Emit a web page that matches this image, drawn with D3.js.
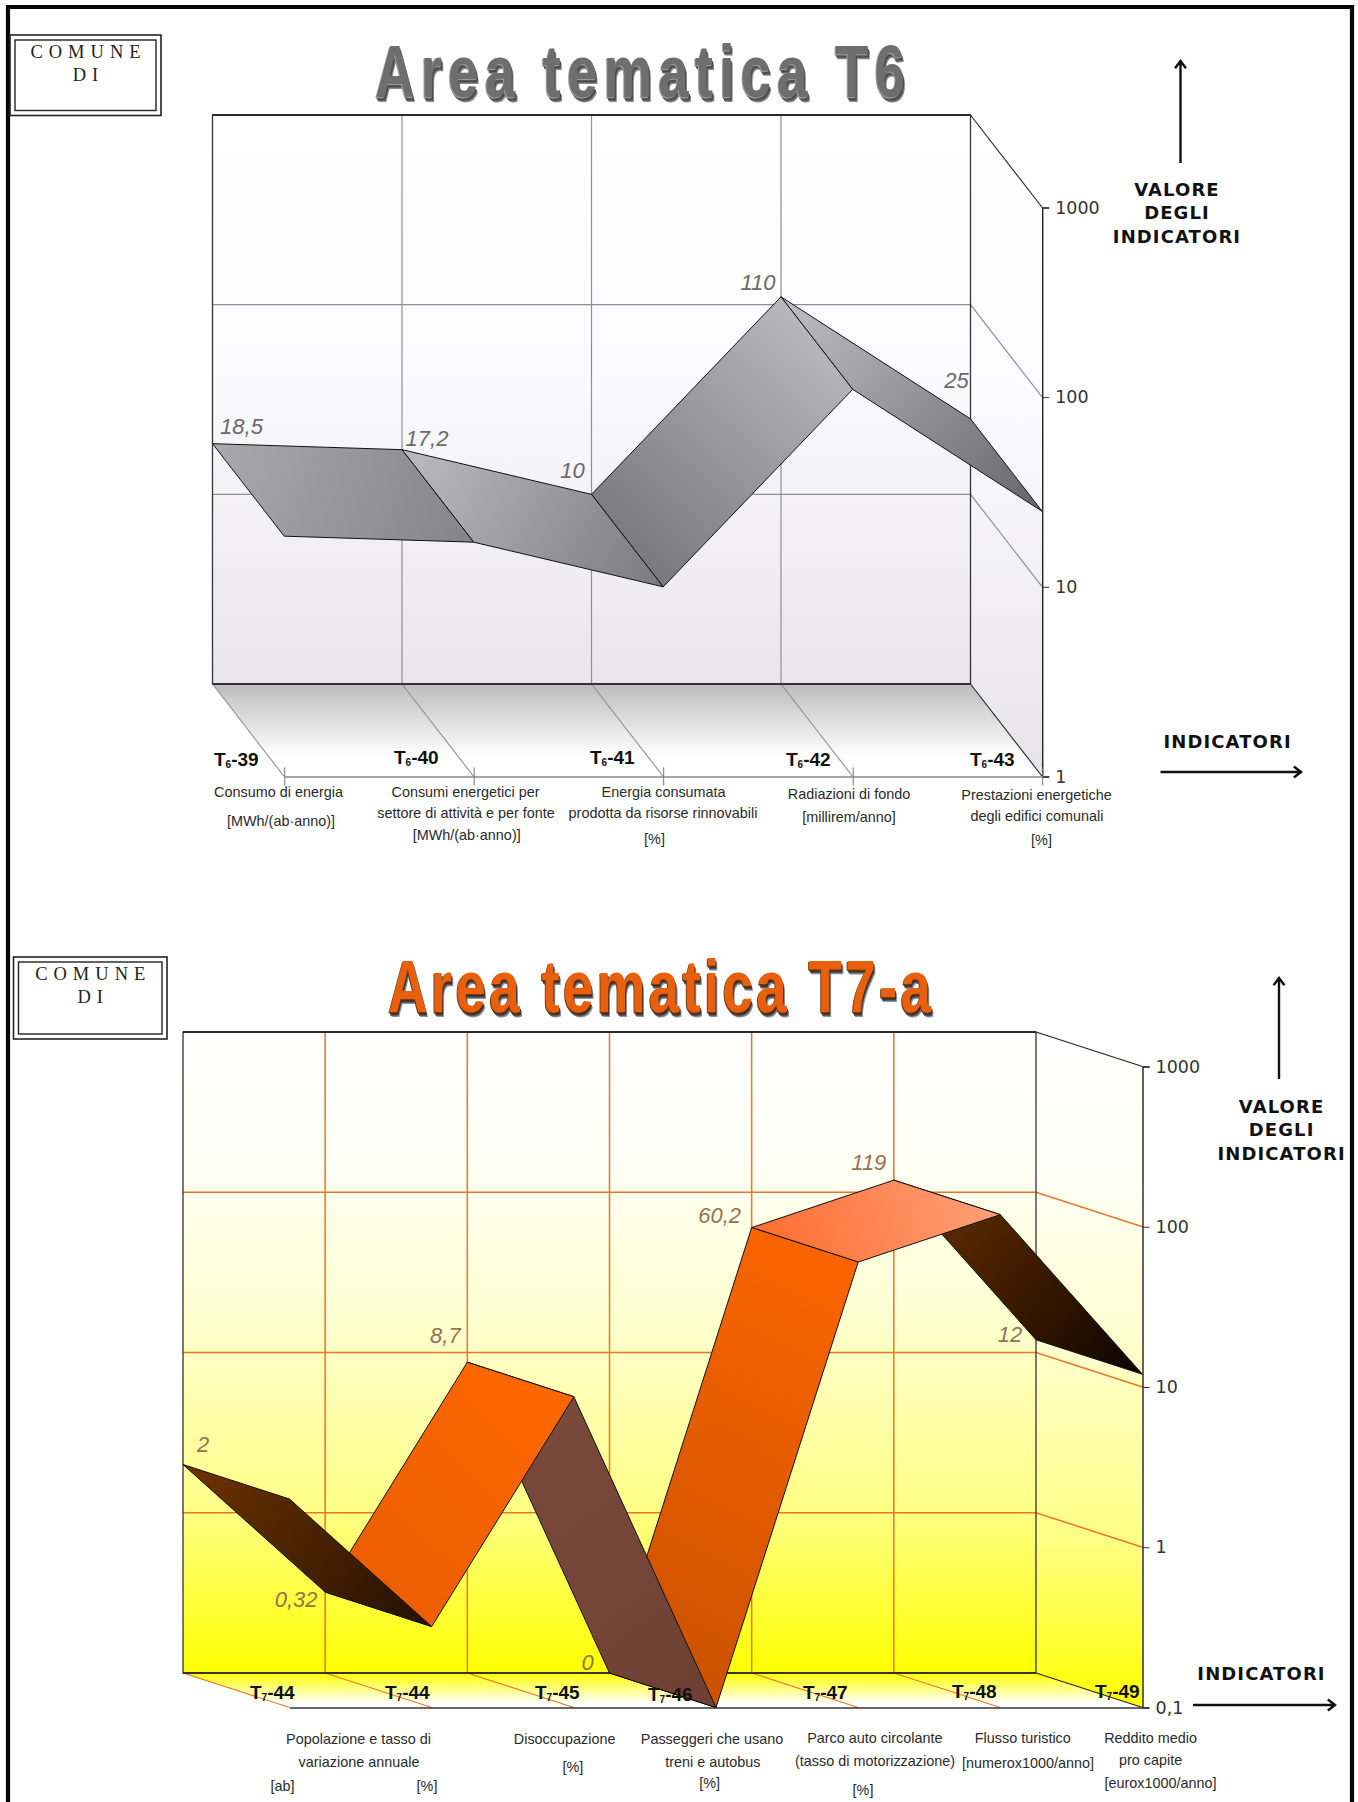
<!DOCTYPE html>
<html>
<head>
<meta charset="utf-8">
<script src="https://cdn.jsdelivr.net/npm/d3@7"></script>
<style>
html,body{margin:0;padding:0;background:#fff;}
svg{display:block;}
text{font-family:"Liberation Sans",Arial,sans-serif;}
.desc{font-size:14.4px;fill:#2a2a2a;text-anchor:middle;dominant-baseline:central;}
.code{font-weight:700;font-size:19px;fill:#111;dominant-baseline:central;}
.val{font-style:italic;font-size:22px;text-anchor:middle;dominant-baseline:central;}
.side{font-family:"DejaVu Sans",sans-serif;font-weight:700;font-size:18px;letter-spacing:1.1px;fill:#111;text-anchor:middle;dominant-baseline:central;}
.com{font-family:"Liberation Serif",serif;font-size:18.5px;letter-spacing:6px;fill:#222;text-anchor:middle;dominant-baseline:central;}
.tick text{font-family:"DejaVu Sans",sans-serif;font-size:17.5px;fill:#333;}
</style>
</head>
<body>
<svg id="page" width="1358" height="1802"></svg>
<script>
// Area T6 indicators
const t6Codes = ["39", "40", "41", "42", "43"];
const t6Values = [18.5, 17.2, 10, 110, 25];
const t6Labels = ["18,5", "17,2", "10", "110", "25"];
const t6Ticks = [1, 10, 100, 1000];
const t6TickLabels = ["1", "10", "100", "1000"];

// Area T7-a indicators (the zero reading rests on the axis floor)
const t7Codes = ["44", "44", "45", "46", "47", "48", "49"];
const t7Values = [2, 0.32, 8.7, 0, 60.2, 119, 12];
const t7Labels = ["2", "0,32", "8,7", "0", "60,2", "119", "12"];
const t7Ticks = [0.1, 1, 10, 100, 1000];
const t7TickLabels = ["0,1", "1", "10", "100", "1000"];

// Value label offsets from their ribbon vertices
const t6ValueOffsets = [[29, -17], [25, -11], [-19, -24], [-23, -14], [-14, -38]];
const t7ValueOffsets = [[20, -20], [-29, 7], [-22, -27], [-22, -11], [-32, -12], [-25, -18], [-26, -5]];

// Code label placement
const t6CodePos = [[214, 759], [394, 757], [590, 757], [786, 759], [970, 759]];
const t7CodePos = [[250, 1692], [385, 1692], [535, 1692], [648, 1694], [803, 1692], [952, 1691], [1095, 1691]];

// Indicator descriptions: [text, centre x, centre y]
const t6Desc = [
  ["Consumo di energia", 278.5, 792], ["[MWh/(ab·anno)]", 281, 821],
  ["Consumi energetici per", 465.5, 792], ["settore di attività e per fonte", 466, 813], ["[MWh/(ab·anno)]", 466.7, 835],
  ["Energia consumata", 663.6, 792], ["prodotta da risorse rinnovabili", 663, 813], ["[%]", 654.5, 839],
  ["Radiazioni di fondo", 849, 794], ["[millirem/anno]", 849, 817],
  ["Prestazioni energetiche", 1036.5, 795], ["degli edifici comunali", 1037, 816], ["[%]", 1041.5, 840]
];
const t7Desc = [
  ["Popolazione e tasso di", 358.5, 1739], ["variazione annuale", 359, 1762], ["[ab]", 282.6, 1786], ["[%]", 427, 1786],
  ["Disoccupazione", 564.6, 1739], ["[%]", 572.8, 1767],
  ["Passeggeri che usano", 712, 1739], ["treni e autobus", 712.8, 1762], ["[%]", 709.6, 1783],
  ["Parco auto circolante", 874.8, 1738], ["(tasso di motorizzazione)", 875, 1761], ["[%]", 863, 1790],
  ["Flusso turistico", 1022.8, 1738], ["[numerox1000/anno]", 1028, 1763],
  ["Reddito medio", 1150.6, 1738], ["pro capite", 1150.6, 1760], ["[eurox1000/anno]", 1160.5, 1783]
];

// Ribbon shading per segment: gradient direction and two colours
const t6Shade = [
  {from: [0, 0], to: [1, 1], c: ["#a9a9ab", "#858587"]},
  {from: [0, 0], to: [1, 1], c: ["#bcbcbf", "#7b7b7d"]},
  {from: [1, 0], to: [0, 1], c: ["#c2c2c5", "#6f6f72"]},
  {from: [0, 0], to: [1, 1], c: ["#c0c0c3", "#66666a"]}
];
const t7Shade = [
  {from: [0, 0], to: [1, 1], c: ["#6e3300", "#241000"]},
  {from: [1, 0], to: [0, 1], c: ["#ff6800", "#e85c00"]},
  {from: [0, 0], to: [1, 1], c: ["#7c4c3e", "#6e4034"]},
  {from: [1, 0], to: [0, 1], c: ["#ff6600", "#c65000"]},
  {from: [0, 1], to: [1, 0], c: ["#ff6a2c", "#ffa27c"]},
  {from: [0, 0], to: [1, 1], c: ["#6f3300", "#0d0400"]}
];

const svg = d3.select("#page");
const defs = svg.append("defs");

function vGradient(id, y0, y1, stops) {
  const g = defs.append("linearGradient").attr("id", id)
    .attr("gradientUnits", "userSpaceOnUse")
    .attr("x1", 0).attr("x2", 0).attr("y1", y0).attr("y2", y1);
  stops.forEach(s => g.append("stop").attr("offset", s[0]).attr("stop-color", s[1]));
  return `url(#${id})`;
}

function extrudeFilter(id, colours) {
  const f = defs.append("filter").attr("id", id)
    .attr("x", "-5%").attr("y", "-15%").attr("width", "110%").attr("height", "135%");
  const merge = [];
  colours.forEach((c, i) => {
    f.append("feFlood").attr("flood-color", c).attr("result", `fl${i}`);
    f.append("feComposite").attr("in", `fl${i}`).attr("in2", "SourceAlpha").attr("operator", "in").attr("result", `cm${i}`);
    f.append("feOffset").attr("in", `cm${i}`).attr("dx", i === 0 ? -1.5 : (i - 1) * 0.9).attr("dy", i + 1).attr("result", `of${i}`);
    merge.unshift(`of${i}`);
  });
  const m = f.append("feMerge");
  merge.forEach(n => m.append("feMergeNode").attr("in", n));
  m.append("feMergeNode").attr("in", "SourceGraphic");
}

function arrow(x1, y1, x2, y2) {
  const a = Math.atan2(y2 - y1, x2 - x1), h = 9;
  svg.append("path")
    .attr("d", `M${x1},${y1}L${x2},${y2}M${x2 - h * Math.cos(a - 0.65)},${y2 - h * Math.sin(a - 0.65)}L${x2},${y2}L${x2 - h * Math.cos(a + 0.65)},${y2 - h * Math.sin(a + 0.65)}`)
    .attr("fill", "none").attr("stroke", "#111").attr("stroke-width", 2.4);
}

function drawPanel(p) {
  const x = d3.scalePoint().domain(d3.range(p.columns)).range([p.left, p.right]);
  const y = d3.scaleLog().domain([p.ticks[0], 1000]).range([p.bottom, p.top]);
  const {dx, dy} = p;
  const g = svg.append("g");
  const bottomFront = p.bottom + dy, topFront = p.top + dy;

  // Commune box with double frame
  const b = p.box;
  g.append("rect").attr("x", b[0]).attr("y", b[1]).attr("width", b[2]).attr("height", b[3]).attr("fill", "none").attr("stroke", "#222").attr("stroke-width", 1.6);
  g.append("rect").attr("x", b[0] + 5).attr("y", b[1] + 5).attr("width", b[2] - 10).attr("height", b[3] - 10).attr("fill", "none").attr("stroke", "#222").attr("stroke-width", 1.4);
  g.append("text").attr("class", "com").attr("x", b[0] + b[2] / 2 + 3).attr("y", b[1] + 16.5).text("COMUNE");
  g.append("text").attr("class", "com").attr("x", b[0] + b[2] / 2 + 3).attr("y", b[1] + 40).text("DI");

  // Title, condensed horizontally with open letter spacing
  const squeeze = 0.74;
  g.append("text").attr("transform", `translate(${p.titleX},${p.titleY}) scale(${squeeze},1)`)
    .attr("font-size", 74).attr("font-weight", 700)
    .attr("textLength", p.titleW / squeeze).attr("lengthAdjust", "spacing")
    .attr("fill", p.titleFill).attr("filter", p.titleFilter).text(p.title);

  // Back wall, side wall and floor
  g.append("rect").attr("x", p.left).attr("y", p.top).attr("width", p.right - p.left).attr("height", p.bottom - p.top).attr("fill", p.wallFill);
  g.append("path").attr("d", `M${p.right},${p.top}L${p.right + dx},${topFront}L${p.right + dx},${bottomFront}L${p.right},${p.bottom}Z`).attr("fill", p.sideFill);
  g.append("path").attr("d", `M${p.left},${p.bottom}L${p.right},${p.bottom}L${p.right + dx},${bottomFront}L${p.left + dx},${bottomFront}Z`).attr("fill", p.floorFill);

  // Horizontal grid on the wall and its continuation on the side
  const inner = p.ticks.slice(1, -1);
  g.selectAll(null).data(inner).join("path")
    .attr("d", t => `M${p.left},${y(t)}L${p.right},${y(t)}L${p.right + dx},${y(t) + dy}`)
    .attr("fill", "none").attr("stroke", p.grid).attr("stroke-width", p.gridWidth);

  // Vertical grid and floor lines
  const cols = d3.range(p.columns);
  g.selectAll(null).data(cols.slice(1, -1)).join("line")
    .attr("x1", i => x(i)).attr("x2", i => x(i)).attr("y1", p.top).attr("y2", p.bottom)
    .attr("stroke", p.grid).attr("stroke-width", p.gridWidth);
  g.selectAll(null).data(cols).join("line")
    .attr("x1", i => x(i)).attr("y1", p.bottom).attr("x2", i => x(i) + dx).attr("y2", bottomFront)
    .attr("stroke", i => i === p.columns - 1 ? "#222" : p.grid).attr("stroke-width", 1.1);

  // Wall outline and outer edges
  g.append("rect").attr("x", p.left).attr("y", p.top).attr("width", p.right - p.left).attr("height", p.bottom - p.top)
    .attr("fill", "none").attr("stroke", "#333").attr("stroke-width", 1.3);
  g.append("line").attr("x1", p.left).attr("x2", p.right).attr("y1", p.top).attr("y2", p.top).attr("stroke", "#111").attr("stroke-width", 1.6);
  g.append("line").attr("x1", p.left).attr("x2", p.right).attr("y1", p.bottom).attr("y2", p.bottom).attr("stroke", "#333").attr("stroke-width", 1.8);
  g.append("line").attr("x1", p.right).attr("y1", p.top).attr("x2", p.right + dx).attr("y2", topFront).attr("stroke", "#222").attr("stroke-width", 1.1);

  // Axes on the front plane
  const yAxis = d3.axisRight(y).tickValues(p.ticks).tickSize(7).tickPadding(6)
    .tickFormat(t => p.tickLabels[p.ticks.indexOf(t)]);
  const ya = g.append("g").attr("class", "yaxis").attr("transform", `translate(${p.right + dx},${dy})`).call(yAxis);
  ya.select(".domain").attr("stroke", "#222").attr("stroke-width", 1.4);
  ya.selectAll(".tick line").attr("stroke", "#333");

  const xFront = d3.scalePoint().domain(cols).range([p.left + dx, p.right + dx]);
  const xAxis = d3.axisBottom(xFront).tickSize(p.xTick).tickSizeOuter(0).tickFormat("");
  const xa = g.append("g").attr("transform", `translate(0,${bottomFront})`).call(xAxis);
  xa.select(".domain").attr("stroke", p.baseLine).attr("stroke-width", 1.4);
  xa.selectAll(".tick line").attr("stroke", "#777").attr("y1", -p.xTick);

  // Ribbon: one quad per segment, painted from the last to the first
  const base = i => [x(i), y(Math.max(p.values[i], p.ticks[0]))];
  const segs = d3.range(p.values.length - 1).reverse();
  segs.forEach(i => {
    const a = base(i), c = base(i + 1), s = p.shade[i];
    const xs = [a[0], c[0], c[0] + dx, a[0] + dx], ys = [a[1], c[1], c[1] + dy, a[1] + dy];
    const [x0, x1] = d3.extent(xs), [y0, y1] = d3.extent(ys);
    const id = `${p.id}-seg${i}`;
    const lg = defs.append("linearGradient").attr("id", id).attr("gradientUnits", "userSpaceOnUse")
      .attr("x1", x0 + s.from[0] * (x1 - x0)).attr("y1", y0 + s.from[1] * (y1 - y0))
      .attr("x2", x0 + s.to[0] * (x1 - x0)).attr("y2", y0 + s.to[1] * (y1 - y0));
    lg.append("stop").attr("offset", 0).attr("stop-color", s.c[0]);
    lg.append("stop").attr("offset", 1).attr("stop-color", s.c[1]);
    g.append("path")
      .attr("d", d3.line()(xs.map((v, k) => [v, ys[k]])) + "Z")
      .attr("fill", `url(#${id})`).attr("stroke", "#111").attr("stroke-width", 1).attr("stroke-linejoin", "round");
  });

  // Value labels
  g.selectAll(null).data(p.values).join("text").attr("class", "val")
    .attr("x", (_, i) => base(i)[0] + p.valueOffsets[i][0])
    .attr("y", (_, i) => base(i)[1] + p.valueOffsets[i][1])
    .attr("fill", p.valueColor)
    .text((_, i) => p.labels[i]);

  // Indicator codes with subscript theme number
  const codes = g.selectAll(null).data(p.codes).join("text").attr("class", "code")
    .attr("x", (_, i) => p.codePos[i][0]).attr("y", (_, i) => p.codePos[i][1]);
  codes.append("tspan").text("T");
  codes.append("tspan").attr("font-size", 10).attr("dy", 5).text(p.theme);
  codes.append("tspan").attr("dy", -5).text(d => "-" + d);

  // Descriptions
  g.selectAll(null).data(p.desc).join("text").attr("class", "desc")
    .attr("x", d => d[1]).attr("y", d => d[2]).text(d => d[0]);

  // Side annotations
  ["VALORE", "DEGLI", "INDICATORI"].forEach((t, i) => {
    g.append("text").attr("class", "side").attr("x", p.sideX).attr("y", p.sideY + i * 23.5).text(t);
  });
  g.append("text").attr("class", "side").attr("x", p.indX).attr("y", p.indY).text("INDICATORI");
  arrow(p.upArrow[0], p.upArrow[1], p.upArrow[0], p.upArrow[2]);
  arrow(p.rightArrow[0], p.rightArrow[2], p.rightArrow[1], p.rightArrow[2]);
}

// Outer page frame, open along the lower edge
svg.append("path").attr("d", "M8,1802L8,7L1352,7L1352,1802").attr("fill", "none").attr("stroke", "#050505").attr("stroke-width", 4.2);

// Title finishes
const greyTitle = vGradient("tg1", 46, 98, [[0, "#6e6e6e"], [0.45, "#a8a8a8"], [1, "#7a7a7a"]]);
const orangeTitle = vGradient("tg2", 962, 1014, [[0, "#e85f08"], [0.5, "#f56a10"], [1, "#a8460f"]]);
extrudeFilter("ex1", ["#9a9a9a", "#5a5a5a", "#4a4a4a", "#666666", "#8a8a8a"]);
extrudeFilter("ex2", ["#7a3a14", "#4a2a14", "#4a3a30", "#55606a", "#8a94a0"]);

drawPanel({
  id: "t6", title: "Area tematica T6", titleX: 375, titleY: 97, titleW: 530,
  titleFill: greyTitle, titleFilter: "url(#ex1)",
  columns: 5, left: 212.5, right: 970.5, top: 115, bottom: 684, dx: 71.7, dy: 92.5,
  ticks: t6Ticks, tickLabels: t6TickLabels, values: t6Values, labels: t6Labels,
  valueOffsets: t6ValueOffsets, valueColor: "#6a6a6a", shade: t6Shade,
  codes: t6Codes, theme: "6", codePos: t6CodePos, desc: t6Desc,
  grid: "#8f8f8f", gridWidth: 1.2, baseLine: "#8a8a8a", xTick: 9,
  wallFill: vGradient("w1", 115, 684, [[0, "#ffffff"], [0.45, "#fbfafc"], [1, "#e8e6ea"]]),
  sideFill: vGradient("s1", 115, 777, [[0, "#ffffff"], [0.45, "#fbfafc"], [1, "#e6e4e8"]]),
  floorFill: vGradient("f1", 684, 777, [[0, "#bcbcbc"], [0.78, "#ffffff"], [1, "#ffffff"]]),
  box: [10, 35, 151, 80.5], sideX: 1177, sideY: 189, indX: 1227.6, indY: 741,
  upArrow: [1180.5, 163, 61], rightArrow: [1160.5, 1301, 772]
});

drawPanel({
  id: "t7", title: "Area tematica T7-a", titleX: 388, titleY: 1012, titleW: 543,
  titleFill: orangeTitle, titleFilter: "url(#ex2)",
  columns: 7, left: 183, right: 1036, top: 1032, bottom: 1673, dx: 106.5, dy: 34.5,
  ticks: t7Ticks, tickLabels: t7TickLabels, values: t7Values, labels: t7Labels,
  valueOffsets: t7ValueOffsets, valueColor: "#96714f", shade: t7Shade,
  codes: t7Codes, theme: "7", codePos: t7CodePos, desc: t7Desc,
  grid: "#e8752a", gridWidth: 1.5, baseLine: "#333", xTick: 0,
  wallFill: vGradient("w2", 1032, 1673, [[0, "#ffffff"], [0.2, "#fffff6"], [0.45, "#ffffd0"], [0.75, "#ffff84"], [1, "#ffff00"]]),
  sideFill: vGradient("s2", 1040, 1707, [[0, "#ffffff"], [0.2, "#fffff6"], [0.45, "#ffffd0"], [0.75, "#ffff84"], [1, "#ffff00"]]),
  floorFill: vGradient("f2", 1673, 1707, [[0, "#ffff00"], [0.9, "#ffffff"], [1, "#ffffff"]]),
  box: [13.5, 957, 153.5, 82], sideX: 1281.6, sideY: 1106, indX: 1261.5, indY: 1673,
  upArrow: [1279, 1079, 978], rightArrow: [1193, 1335, 1705]
});
</script>
</body>
</html>
